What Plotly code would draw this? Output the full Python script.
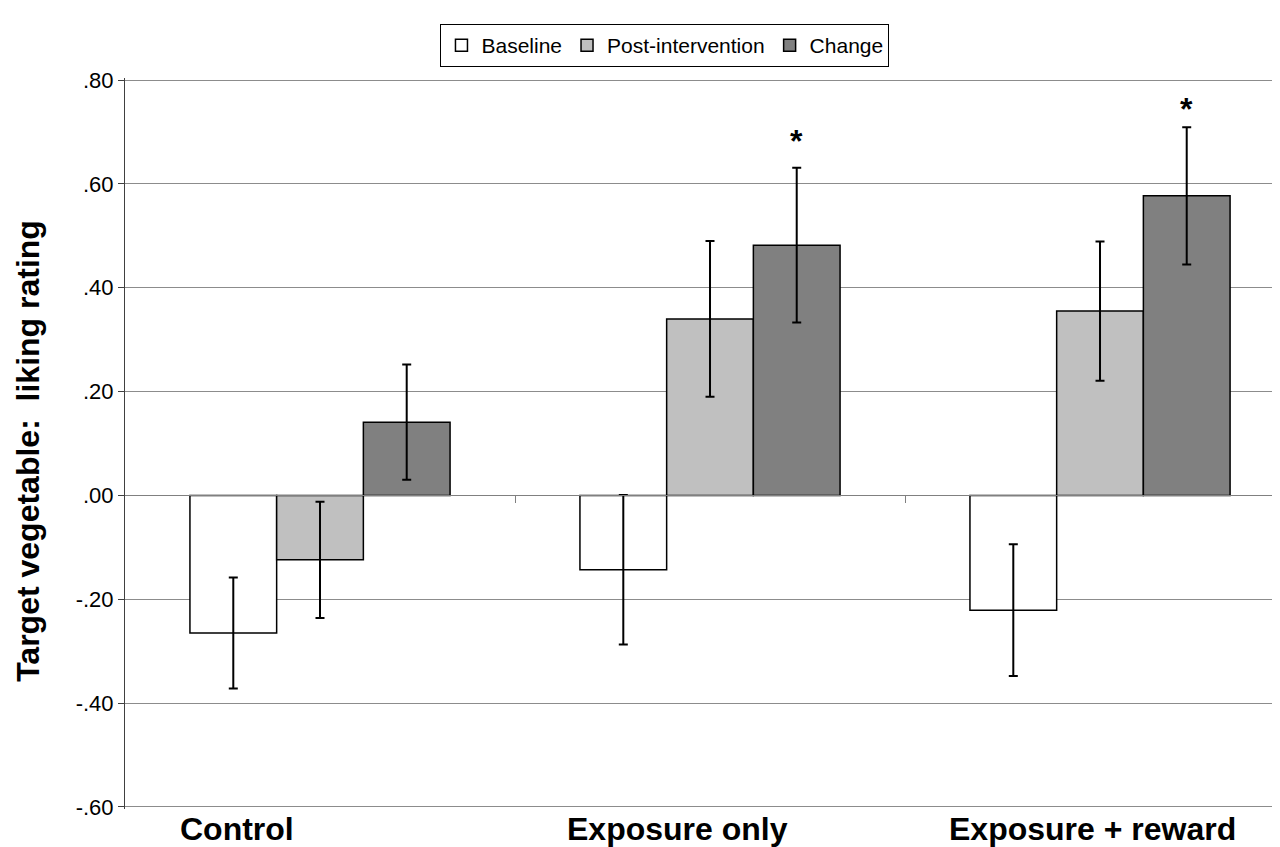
import plotly.graph_objects as go

# ---- data ----
categories = ["Control", "Exposure only", "Exposure + reward"]
series_names = ["Baseline", "Post-intervention", "Change"]
baseline = [-0.265, -0.143, -0.221]
baseline_err = [0.107, 0.144, 0.127]
post = [-0.124, 0.340, 0.355]
post_err = [0.112, 0.150, 0.134]
change = [0.141, 0.482, 0.577]
change_err = [0.111, 0.149, 0.132]
asterisk_y = [None, 0.682, 0.744]  # significance marks above Change bars
y_tickvals = [0.8, 0.6, 0.4, 0.2, 0.0, -0.2, -0.4, -0.6]
y_ticktext = [".80", ".60", ".40", ".20", ".00", "-.20", "-.40", "-.60"]

FONT = "Liberation Sans, Arial, sans-serif"
xpos = list(range(len(categories)))
fills = ["#FFFFFF", "#C0C0C0", "#808080"]

YMIN, YMAX = -0.604, 0.804

fig = go.Figure()
for name, vals, errs, col in zip(series_names, [baseline, post, change],
                                 [baseline_err, post_err, change_err], fills):
    fig.add_trace(go.Bar(
        x=xpos, y=vals, name=name,
        marker=dict(color=col, line=dict(color="#000000", width=1.5)),
        error_y=dict(type="data", array=errs, visible=True,
                     color="#000000", thickness=2, width=4.5),
    ))

# asterisks above the Change error bars
bar_w = (1 - 0.333) / 3
for i, sy in enumerate(asterisk_y):
    if sy is not None:
        fig.add_annotation(
            x=xpos[i] + bar_w, y=sy,
            xref="x", yref="y", text="<b>*</b>", showarrow=False,
            yanchor="middle",
            font=dict(family=FONT, size=32, color="#000000"),
        )

# category labels below the plot
label_left = [-0.364, 0.628, 1.608]
for i, cat in enumerate(categories):
    fig.add_annotation(
        x=label_left[i], y=0, xref="x", yref="paper",
        text=f"<b>{cat}</b>", showarrow=False,
        xanchor="left", yanchor="middle", yshift=-20,
        font=dict(family=FONT, size=32, color="#000000"),
    )

# y-axis title
fig.add_annotation(
    x=0, y=0.49, xref="paper", yref="paper",
    text="<b>Target vegetable:  liking rating</b>", showarrow=False,
    textangle=-90, xanchor="center", yanchor="middle", xshift=-97,
    font=dict(family=FONT, size=32, color="#000000"),
)

fig.update_layout(
    width=1272, height=847,
    margin=dict(l=117, r=0, t=70, b=46, autoexpand=False),
    paper_bgcolor="#FFFFFF", plot_bgcolor="#FFFFFF",
    barmode="group", bargap=0.333, bargroupgap=0,
    font=dict(family=FONT, size=20, color="#000000"),
    showlegend=True,
    legend=dict(
        orientation="h", x=0.4675, xanchor="center", y=1.0737, yanchor="top",
        bordercolor="#000000", borderwidth=1, bgcolor="#FFFFFF",
        font=dict(family=FONT, size=21, color="#000000"),
        itemwidth=30, traceorder="normal",
    ),
    xaxis=dict(
        range=[-0.5, 2.4615], showgrid=False, zeroline=False,
        showticklabels=False, tickvals=[0.5, 1.5], ticks="outside",
        ticklen=7, tickcolor="#808080", tickwidth=1,
        showline=True, linecolor="#808080", linewidth=1,
        anchor="free", position=(0 - YMIN) / (YMAX - YMIN), automargin=False,
    ),
    yaxis=dict(
        range=[YMIN, YMAX], tickvals=y_tickvals, ticktext=y_ticktext,
        showgrid=True, gridcolor="#8C8C8C", gridwidth=1,
        zeroline=False, showline=True, linecolor="#404040", linewidth=1,
        ticks="outside", ticklen=6, tickcolor="#404040", automargin=False,
        tickfont=dict(family=FONT, size=22, color="#000000"),
    ),
)

fig.write_html("out.html")
